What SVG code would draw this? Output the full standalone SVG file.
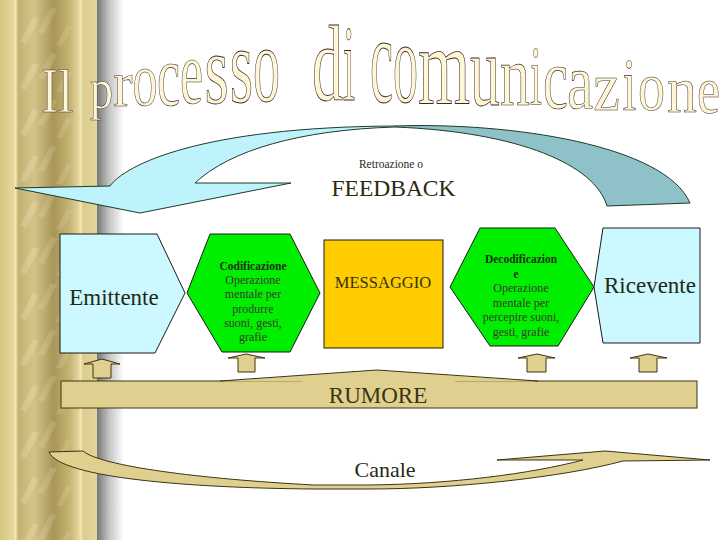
<svg xmlns="http://www.w3.org/2000/svg" width="720" height="540" viewBox="0 0 720 540">
<defs>
<linearGradient id="pillarGrad" x1="0" y1="0" x2="97" y2="0" gradientUnits="userSpaceOnUse">
<stop offset="0" stop-color="#d6c684"/>
<stop offset="0.14" stop-color="#e6d89c"/>
<stop offset="0.16" stop-color="#f2e8b8"/>
<stop offset="0.19" stop-color="#c4b272"/>
<stop offset="0.35" stop-color="#d4c48a"/>
<stop offset="0.55" stop-color="#a89658"/>
<stop offset="0.72" stop-color="#c6b474"/>
<stop offset="0.81" stop-color="#e2d49a"/>
<stop offset="0.83" stop-color="#f2e8bc"/>
<stop offset="0.86" stop-color="#dccc8e"/>
<stop offset="1" stop-color="#e4d69a"/>
</linearGradient>
<linearGradient id="shadowGrad" x1="97" y1="0" x2="124" y2="0" gradientUnits="userSpaceOnUse">
<stop offset="0" stop-color="#767676"/>
<stop offset="0.45" stop-color="#c4c4c4"/>
<stop offset="1" stop-color="#ffffff"/>
</linearGradient>
<linearGradient id="titleGrad" x1="0" y1="30" x2="0" y2="112" gradientUnits="userSpaceOnUse">
<stop offset="0" stop-color="#fff6d6"/>
<stop offset="0.45" stop-color="#fbd8b8"/>
<stop offset="1" stop-color="#f09c98"/>
</linearGradient>
<pattern id="streaks" x="0" y="0" width="97" height="46" patternUnits="userSpaceOnUse">
<path d="M20,42 L33,17 L39,19 L26,44 Z" fill="#fff6d0" opacity="0.2"/>
<path d="M38,32 L51,7 L57,9 L44,34 Z" fill="#fff6d0" opacity="0.16"/>
<path d="M56,46 L67,25 L72,27 L61,48 Z" fill="#fff6d0" opacity="0.14"/>
</pattern>
<style>
.ttl{font-family:"Liberation Serif",serif;font-size:100px;fill:url(#titleGrad);stroke:#3a2a2a;stroke-width:0.8}
.node{stroke:#1a1a1a;stroke-width:1}
.big{font-family:"Liberation Serif",serif;font-size:23px;fill:#1f2a14;text-anchor:middle}
.small{font-family:"Liberation Serif",serif;font-size:12px;fill:#3a3a2a;text-anchor:middle}
.bold{font-family:"Liberation Serif",serif;font-size:11.5px;font-weight:bold;fill:#1e2e10;text-anchor:middle}
.tan{fill:#e0d090;stroke:#3a3410;stroke-width:1}
.rib{stroke:#1e3a28;stroke-width:1}
</style>
</defs>

<g id="pillar">
<rect x="0" y="0" width="97" height="540" fill="url(#pillarGrad)"/>
<rect x="0" y="0" width="97" height="540" fill="url(#streaks)"/>
<rect x="97" y="0" width="27" height="540" fill="url(#shadowGrad)"/>
</g>

<g id="title" class="ttl">
<text transform="translate(49.5,112) scale(0.5,0.634)" text-anchor="middle">I</text>
<text transform="translate(65.5,112) scale(0.58,0.615)" text-anchor="middle">l</text>
<text transform="translate(101.5,108) scale(0.46,0.58)" text-anchor="middle">p</text>
<text transform="translate(123,106) scale(0.58,0.65)" text-anchor="middle">r</text>
<text transform="translate(145,105) scale(0.5,0.76)" text-anchor="middle">o</text>
<text transform="translate(168.5,105) scale(0.52,0.87)" text-anchor="middle">c</text>
<text transform="translate(191.5,103) scale(0.52,0.91)" text-anchor="middle">e</text>
<text transform="translate(216.5,103) scale(0.62,1.0)" text-anchor="middle">s</text>
<text transform="translate(241.5,102) scale(0.6,1.07)" text-anchor="middle">s</text>
<text transform="translate(266.5,101) scale(0.54,1.07)" text-anchor="middle">o</text>
<text transform="translate(327.5,100) scale(0.62,1.07)" text-anchor="middle">d</text>
<text transform="translate(349,100) scale(0.45,1.07)" text-anchor="middle">i</text>
<text transform="translate(381.5,102) scale(0.52,1.24)" text-anchor="middle">c</text>
<text transform="translate(405.5,102) scale(0.5,1.17)" text-anchor="middle">o</text>
<text transform="translate(444,103) scale(0.67,1.09)" text-anchor="middle">m</text>
<text transform="translate(485,105) scale(0.6,1.02)" text-anchor="middle">u</text>
<text transform="translate(515,105) scale(0.6,0.87)" text-anchor="middle">n</text>
<text transform="translate(536,105) scale(0.43,0.85)" text-anchor="middle">i</text>
<text transform="translate(555.5,108) scale(0.56,0.87)" text-anchor="middle">c</text>
<text transform="translate(580,108) scale(0.59,0.78)" text-anchor="middle">a</text>
<text transform="translate(606.5,110) scale(0.6,0.7)" text-anchor="middle">z</text>
<text transform="translate(629.5,110) scale(0.5,0.73)" text-anchor="middle">i</text>
<text transform="translate(651.5,110) scale(0.54,0.7)" text-anchor="middle">o</text>
<text transform="translate(682,112) scale(0.6,0.65)" text-anchor="middle">n</text>
<text transform="translate(708.5,113) scale(0.52,0.67)" text-anchor="middle">e</text>
</g>

<g id="connectors">
<g id="feedback-arrow">
<path class="rib" fill="#8fc1c9" d="M395,126 C510,122 665,145 690,203 L607,206 C595,165 520,132 395,127 Z"/>
<path class="rib" fill="#bff3fb" d="M15,188 L110,186 C125,165 200,127 395,126 L395,127 C300,130 230,150 195,183 L291,183 L140,213 Z"/>
</g>
<g id="canale-arrow">
<path class="tan" fill="#d8ca8c" d="M49,452 L83,451 C100,466 200,479 314,485 L370,485 C450,484 530,474 583,460 L497,460 L605,451 L710,460 L623,461 C560,478 450,489 370,489 L314,489 C190,488 60,478 49,452 Z"/>
</g>
<g id="noise-arrows">
<path class="tan" d="M102,359 L120,364 L111,364 L111,378 L93,378 L93,364 L84,364 Z"/>
<path class="tan" d="M246,354 L265,358 L255,358 L255,372 L238,372 L238,358 L228,358 Z"/>
<path class="tan" d="M537,354 L555,358 L546,358 L546,372 L527,372 L527,358 L518,358 Z"/>
<path class="tan" d="M648,354 L667,358 L657,358 L657,372 L639,372 L639,358 L630,358 Z"/>
</g>
</g>

<g id="feedback-label">
<text x="391" y="168" font-family="Liberation Serif, serif" font-size="11.5" fill="#2a2a1a" text-anchor="middle">Retroazione o</text>
<text x="393.5" y="196" font-family="Liberation Serif, serif" font-size="23.5" fill="#2a2a10" text-anchor="middle">FEEDBACK</text>
</g>

<g id="emittente">
<polygon class="node" fill="#ccf8ff" points="60,234 157,234 185,293 155,353 60,353"/>
<text class="big" x="114" y="305">Emittente</text>
</g>

<g id="codificazione">
<polygon class="node" fill="#00ee00" points="187,293 210,234 290,234 320,293 290,352 222,352"/>
<text class="bold" x="253" y="270">Codificazione</text>
<text class="small" x="253" y="284">Operazione</text>
<text class="small" x="253" y="298">mentale per</text>
<text class="small" x="253" y="312.5">produrre</text>
<text class="small" x="253" y="327">suoni, gesti,</text>
<text class="small" x="253" y="341">grafie</text>
</g>

<g id="messaggio">
<rect class="node" fill="#ffcc00" x="324" y="240" width="119" height="108"/>
<text x="383" y="288" font-family="Liberation Serif, serif" font-size="16.5" fill="#333310" text-anchor="middle">MESSAGGIO</text>
</g>

<g id="decodificazione">
<polygon class="node" fill="#00ee00" points="450,287 480,228 555,228 594,287 558,346 490,346"/>
<text class="bold" x="521" y="263" font-size="12">Decodificazion</text>
<text class="bold" x="516" y="278" font-size="12">e</text>
<text class="small" x="521" y="292">Operazione</text>
<text class="small" x="521" y="307">mentale per</text>
<text class="small" x="521" y="321">percepire suoni,</text>
<text class="small" x="521" y="336">gesti, grafie</text>
</g>

<g id="ricevente">
<polygon class="node" fill="#ccf8ff" points="603,228 700,228 700,343 603,343 594,287"/>
<text class="big" x="650" y="293">Ricevente</text>
</g>

<g id="rumore">
<rect class="tan" x="61" y="381" width="636" height="27"/>
<path d="M220,381.5 L377,370 L538,381.5 Z" fill="#e0d090"/>
<rect x="302" y="379.5" width="153" height="3" fill="#e0d090"/>
<path d="M220,381 L377,370 L538,381" fill="none" stroke="#3a3410" stroke-width="1"/>
<text x="378" y="403" font-family="Liberation Serif, serif" font-size="23" fill="#3a3410" text-anchor="middle">RUMORE</text>
</g>

<g id="canale">
<text x="385" y="477" font-family="Liberation Serif, serif" font-size="22" fill="#2a2a10" text-anchor="middle">Canale</text>
</g>
</svg>
